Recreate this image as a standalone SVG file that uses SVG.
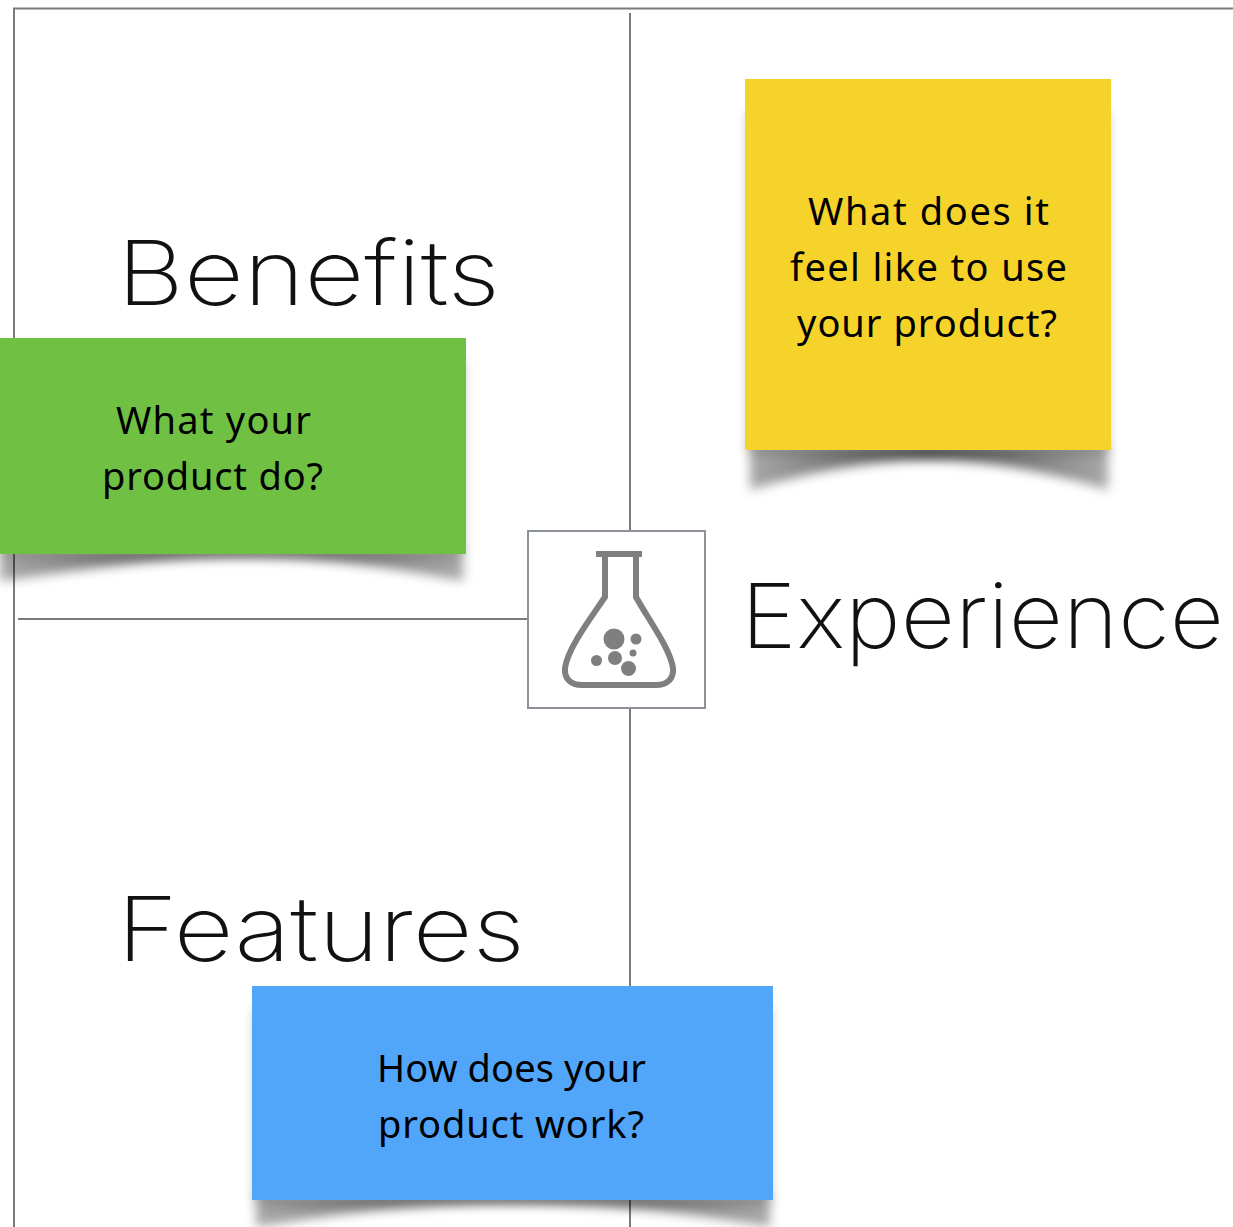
<svg xmlns="http://www.w3.org/2000/svg" width="1233" height="1227" viewBox="0 0 1233 1227">
<style>
.line{fill:none;stroke:#7b7b7b;stroke-width:2}
.title{font-family:"Inter","Liberation Sans",sans-serif;font-weight:200;font-size:90px;fill:#111}
.note{font-family:"Noto Sans","DejaVu Sans",sans-serif;font-size:38px;fill:#000;text-anchor:middle}
.ink{fill:#7f7f7f}
.flask{fill:none;stroke:#7f7f7f;stroke-width:6}
.glow{fill:#000;opacity:.3;filter:url(#soft)}
.curl{fill:url(#sh);filter:url(#soft2)}
</style>
<defs>
<filter id="soft" x="-20%" y="-20%" width="140%" height="140%"><feGaussianBlur stdDeviation="6"/></filter>
<filter id="soft2" x="-10%" y="-60%" width="120%" height="220%"><feGaussianBlur stdDeviation="5.500"/></filter>
<linearGradient id="sh"><stop offset="0" stop-color="#000" stop-opacity=".34"/><stop offset=".5" stop-color="#000" stop-opacity=".72"/><stop offset="1" stop-color="#000" stop-opacity=".34"/></linearGradient>
</defs>
<rect width="1233" height="1227" fill="#fff"/>
<g id="connectors">
<path class="line" d="M1233 8.500H14V1227"/>
<path class="line" d="M630 13V530M630 708V1227M18 619H528"/>
</g>
<g id="center">
<rect x="528" y="531" width="177" height="177" fill="#fff" stroke="#8d9299" stroke-width="2"/>
<rect class="ink" x="596" y="551" width="46" height="6"/>
<path class="flask" d="M605 556V597C590 619 568 648 565 668C564 679 571 685 582 685H656C667 685 674 679 673 668C670 648 648 619 636 597V556"/>
<circle class="ink" cx="614" cy="639" r="10.500"/><circle class="ink" cx="636" cy="639" r="5.500"/><circle class="ink" cx="633" cy="653" r="3.500"/><circle class="ink" cx="615" cy="658" r="7"/><circle class="ink" cx="596.500" cy="660.500" r="5.500"/><circle class="ink" cx="628.500" cy="668.500" r="7.500"/>
</g>
<g id="benefits-title"><text class="title" x="117" y="305" textLength="383" lengthAdjust="spacingAndGlyphs">Benefits</text></g>
<g id="experience-title"><text class="title" x="741" y="648" textLength="483" lengthAdjust="spacingAndGlyphs">Experience</text></g>
<g id="features-title"><text class="title" x="117" y="961" textLength="408" lengthAdjust="spacingAndGlyphs">Features</text></g>
<g id="note-yellow">
<rect class="glow" x="748" y="112" width="360" height="340"/>
<path class="curl" d="M750 446V490C810 472 870 460 928 460C988 460 1050 472 1108 490V446Z"/>
<rect x="745" y="79" width="366" height="371" fill="#f6d32b"/>
<text class="note" x="928.500" y="225" textLength="241">What does it</text><text class="note" x="928.500" y="281" textLength="277">feel like to use</text><text class="note" x="927" y="337" textLength="260">your product?</text>
</g>
<g id="note-green">
<rect class="glow" x="0" y="360" width="463" height="195"/>
<path class="curl" d="M0 550V581C100 567 170 557 240 557C320 557 390 567 463 581V550Z"/>
<rect x="0" y="338" width="466" height="216" fill="#70c043"/>
<text class="note" x="213.500" y="434" textLength="195">What your</text><text class="note" x="212.500" y="490" textLength="221">product do?</text>
</g>
<g id="note-blue">
<rect class="glow" x="255" y="1008" width="515" height="194"/>
<path class="curl" d="M256 1196V1227C340 1212 430 1203 512 1203C600 1203 690 1212 770 1227V1196Z"/>
<rect x="252" y="986" width="521" height="214" fill="#52a6fa"/>
<text class="note" x="511.500" y="1082" textLength="269">How does your</text><text class="note" x="511" y="1138" textLength="266">product work?</text>
</g>
</svg>
